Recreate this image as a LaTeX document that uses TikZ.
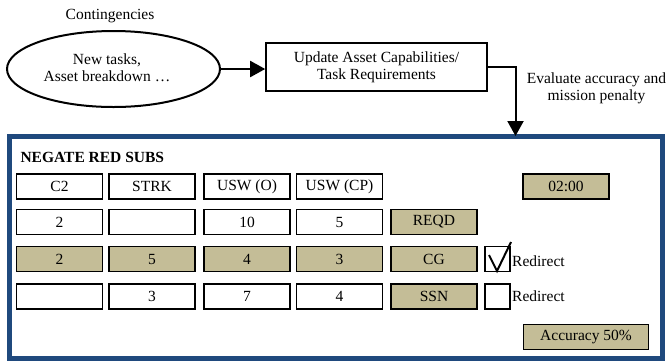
\documentclass[tikz,border=0pt]{standalone}
\usepackage{fontspec}
\setmainfont{Liberation Serif}
\usetikzlibrary{shapes.geometric,arrows.meta}
\definecolor{tanfill}{HTML}{C4BD97}
\definecolor{panelblue}{HTML}{1F497D}
\begin{document}
\begin{tikzpicture}[x=1pt,y=-1pt,
 every node/.style={font=\fontsize{15.5}{17}\selectfont},
 cell/.style={draw,line width=1.6pt,minimum width=86pt,minimum height=25pt,inner sep=0pt},
 tan/.style={cell,fill=tanfill},
 arr/.style={line width=2pt,-{Triangle[length=15pt,width=16pt]}}]
\useasboundingbox (0,0) rectangle (668,360);
 \node (Ct) at (110,16) {Contingencies};
 \node[ellipse,draw,line width=2pt,minimum width=213pt,minimum height=76pt] (E) at (113.5,69) {};
 \node[align=center] (Et) at (107,68) {New tasks,\\Asset breakdown …};
 \node[draw,line width=1.6pt,minimum width=221pt,minimum height=48pt,align=center] (U) at (376.5,67)
  {Update Asset Capabilities/\\Task Requirements};
 \node[align=center] (Ev) at (596.5,88) {Evaluate accuracy and\\mission penalty};
%panel
 \draw[panelblue,line width=5pt] (9,136.5) rectangle (662.5,358);
 \coordinate (K) at (515.5,136);
 \draw[arr] (E.east) -- (E.east -| U.west);
 \draw[arr] (U.east) -| (K);
 \node[anchor=west] (T) at (17,157) {\textbf{NEGATE RED SUBS}};
 \foreach \x/\t [count=\i] in {59.5/C2,152/STRK,247/USW (O),339.5/USW (CP)}
  \node[cell] (H\i) at (\x,186.5) {\t};
 \foreach \x/\t [count=\i] in {59.5/2,152/,247/10,339.5/5}
  \node[cell] (A\i) at (\x,222) {\t};
 \node[tan] (A5) at (434,222) {REQD};
 \foreach \x/\t [count=\i] in {59.5/2,152/5,247/4,339.5/3,434/CG}
  \node[tan] (B\i) at (\x,259) {\t};
 \foreach \x/\t [count=\i] in {59.5/,152/3,247/7,339.5/4}
  \node[cell] (C\i) at (\x,296.5) {\t};
 \node[tan] (C5) at (434,296.5) {SSN};
 \node[tan] (Tm) at (566,186.5) {02:00};
 \node[tan,minimum width=125pt] (Acc) at (586,337) {Accuracy 50\%};
%redirect boxes
 \node[cell,minimum width=25pt] (X1) at (497.5,259) {};
 \node[cell,minimum width=25pt] (X2) at (497.5,296.5) {};
 \draw[line width=2pt] (489,255) -- (497,271) -- (511,242);
 \node[anchor=base west,inner sep=0pt] (R1) at (512,266) {Redirect};
 \node[anchor=base west,inner sep=0pt] (R2) at (512,301.5) {Redirect};
\end{tikzpicture}
\end{document}
